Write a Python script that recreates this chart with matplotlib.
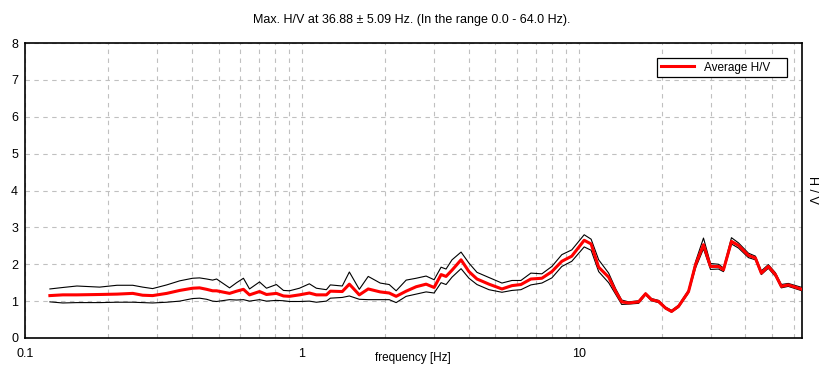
import matplotlib
matplotlib.use("Agg")
import matplotlib.pyplot as plt
from matplotlib.ticker import LogLocator, FixedLocator, NullFormatter

freq = [0.123, 0.137, 0.154, 0.186, 0.215, 0.245, 0.266, 0.289, 0.325, 0.362,
        0.403, 0.427, 0.453, 0.476, 0.492, 0.548, 0.581, 0.615, 0.647, 0.703,
        0.745, 0.809, 0.858, 0.902, 0.980, 1.064, 1.128, 1.226, 1.267, 1.399,
        1.484, 1.612, 1.736, 1.918, 2.067, 2.190, 2.380, 2.586, 2.809, 3.003,
        3.182, 3.316, 3.485, 3.757, 4.013, 4.289, 4.739, 5.279, 5.735, 6.180,
        6.714, 7.357, 7.995, 8.684, 9.436, 10.46, 11.08, 11.80, 12.82, 13.6,
        14.29, 15.14, 16.45, 17.43, 18.3, 19.42, 20.58, 21.63, 22.93, 24.91,
        26.41, 28.21, 29.90, 31.95, 33.31, 35.6, 37.73, 40.99, 43.43, 45.64,
        48.37, 51.3, 53.89, 57.1, 64.0]

avg_hv = [1.15, 1.17, 1.17, 1.18, 1.19, 1.21, 1.16, 1.15, 1.21, 1.29,
          1.35, 1.36, 1.32, 1.28, 1.28, 1.21, 1.27, 1.32, 1.17, 1.26,
          1.18, 1.21, 1.14, 1.13, 1.17, 1.22, 1.17, 1.17, 1.27, 1.26,
          1.46, 1.17, 1.33, 1.25, 1.22, 1.13, 1.27, 1.39, 1.46, 1.37,
          1.72, 1.67, 1.84, 2.12, 1.80, 1.60, 1.46, 1.33, 1.42, 1.45,
          1.60, 1.62, 1.80, 2.08, 2.22, 2.65, 2.55, 1.92, 1.65, 1.26,
          0.98, 0.95, 0.98, 1.20, 1.04, 0.99, 0.81, 0.72, 0.86, 1.26,
          1.99, 2.53, 1.94, 1.94, 1.85, 2.62, 2.51, 2.24, 2.17, 1.76,
          1.94, 1.72, 1.40, 1.44, 1.32]

upper_hv = [1.33, 1.37, 1.41, 1.38, 1.43, 1.43, 1.38, 1.34, 1.44, 1.55,
            1.62, 1.63, 1.60, 1.57, 1.60, 1.36, 1.50, 1.62, 1.33, 1.52,
            1.35, 1.45, 1.29, 1.28, 1.35, 1.47, 1.35, 1.31, 1.44, 1.41,
            1.79, 1.32, 1.67, 1.49, 1.45, 1.28, 1.57, 1.62, 1.68, 1.58,
            1.92, 1.87, 2.12, 2.33, 2.03, 1.78, 1.64, 1.49, 1.56, 1.56,
            1.76, 1.74, 1.94, 2.26, 2.39, 2.80, 2.68, 2.12, 1.76, 1.33,
            1.03, 0.98, 1.01, 1.22, 1.07, 1.02, 0.84, 0.75, 0.89, 1.30,
            2.07, 2.71, 2.02, 2.00, 1.90, 2.72, 2.58, 2.30, 2.22, 1.82,
            1.99, 1.77, 1.45, 1.48, 1.37]

lower_hv = [0.98, 0.95, 0.96, 0.96, 0.97, 0.97, 0.96, 0.95, 0.97, 1.00,
            1.07, 1.08, 1.05, 1.00, 0.99, 1.04, 1.03, 1.04, 1.00, 1.04,
            1.00, 1.02, 1.01, 0.99, 0.99, 1.00, 0.97, 1.00, 1.08, 1.10,
            1.14, 1.05, 1.04, 1.04, 1.04, 0.96, 1.13, 1.19, 1.25, 1.22,
            1.50, 1.45, 1.65, 1.88, 1.62, 1.45, 1.31, 1.24, 1.29, 1.31,
            1.44, 1.49, 1.63, 1.94, 2.08, 2.47, 2.38, 1.80, 1.50, 1.18,
            0.91, 0.92, 0.94, 1.17, 1.01, 0.96, 0.79, 0.70, 0.83, 1.22,
            1.90, 2.42, 1.86, 1.87, 1.80, 2.55, 2.44, 2.18, 2.12, 1.72,
            1.89, 1.67, 1.36, 1.40, 1.28]

title = "Max. H/V at 36.88 \u00b1 5.09 Hz. (In the range 0.0 - 64.0 Hz)."
x_ticks = [0.1, 1, 10]
x_tick_labels = ["0.1", "1", "10"]
y_ticks = [0, 1, 2, 3, 4, 5, 6, 7, 8]

plt.rcParams['font.family'] = ['Liberation Sans', 'DejaVu Sans']

fig = plt.figure(figsize=(8.26, 3.81), dpi=100)
ax = fig.add_axes([25/826, 1 - 338/381, 777/826, 295/381])

ax.plot(freq, upper_hv, color='black', lw=0.8, zorder=3)
ax.plot(freq, lower_hv, color='black', lw=0.8, zorder=3)
ax.plot(freq, avg_hv, color='#ff0000', lw=2.2, zorder=4, label='Average H/V')

ax.set_xscale('log')
ax.set_xlim(0.1, 64)
ax.set_ylim(0, 8)
ax.xaxis.set_major_locator(FixedLocator(x_ticks))
ax.set_xticklabels(x_tick_labels)
ax.xaxis.set_minor_locator(LogLocator(base=10, subs=range(2, 10)))
ax.xaxis.set_minor_formatter(NullFormatter())
ax.set_yticks(y_ticks)

ax.grid(True, which='both', axis='x', color='#c0c0c0', ls=(0, (4, 4)), lw=0.8)
ax.grid(True, which='major', axis='y', color='#c0c0c0', ls=(0, (4, 4)), lw=0.8)
ax.set_axisbelow(True)

ax.tick_params(which='both', length=0, labelsize=9, colors='black')
ax.tick_params(axis='x', pad=7)
ax.tick_params(axis='y', pad=5)
for s in ax.spines.values():
    s.set_color('black')
    s.set_linewidth(1.2)

ax.set_xlabel('frequency [Hz]', fontsize=8.5)
ax.xaxis.set_label_coords((413 - 25) / 777, -(358 - 338) / 295)
ax.xaxis.label.set_va('center')
fig.text(812/826, 1 - 190/381, 'H / V', rotation=270, fontsize=9,
         ha='center', va='center')
fig.text(412/826, 1 - 20/381, title, fontsize=9, ha='center', va='center')

lx0 = (657 - 25) / 777
lw_ = (787 - 657) / 777
ltop = (338 - 58) / 295
leg = ax.legend(loc='upper left', bbox_to_anchor=(lx0, 0.5, lw_, ltop - 0.5),
                mode='expand', borderaxespad=0, fancybox=False,
                edgecolor='black', framealpha=1, fontsize=8.5,
                handlelength=2.8, borderpad=0.3, handletextpad=0.85)
leg.get_frame().set_linewidth(0.9)

fig.savefig('out.png', dpi=100)
